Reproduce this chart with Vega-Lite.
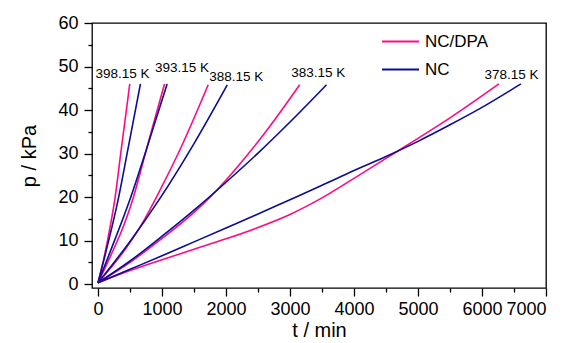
{
  "$schema": "https://vega.github.io/schema/vega-lite/v6.json",
  "width": 454,
  "height": 265,
  "autosize": {"type": "none"},
  "padding": {"left": 92, "top": 23, "right": 30, "bottom": 55},
  "config": {
    "view": {"stroke": "#000", "strokeWidth": 1.3},
    "font": "Liberation Sans",
    "axis": {"grid": false, "domain": false, "tickColor": "#000", "tickWidth": 1.3, "labelColor": "#000", "titleColor": "#000", "labelFont": "Liberation Sans", "titleFont": "Liberation Sans", "titleFontWeight": "normal", "labelOverlap": false, "format": "d"}
  },
  "datasets": {
    "curves": [
      {"series": "NC/DPA", "T": "398.15 K", "t": 0, "p": 0.3},
      {"series": "NC/DPA", "T": "398.15 K", "t": 100, "p": 6.5},
      {"series": "NC/DPA", "T": "398.15 K", "t": 200, "p": 14},
      {"series": "NC/DPA", "T": "398.15 K", "t": 261, "p": 19.3},
      {"series": "NC/DPA", "T": "398.15 K", "t": 360, "p": 30.6},
      {"series": "NC/DPA", "T": "398.15 K", "t": 430, "p": 38.5},
      {"series": "NC/DPA", "T": "398.15 K", "t": 496, "p": 46},
      {"series": "NC", "T": "398.15 K", "t": 0, "p": 0.3},
      {"series": "NC", "T": "398.15 K", "t": 150, "p": 9},
      {"series": "NC", "T": "398.15 K", "t": 313, "p": 19.3},
      {"series": "NC", "T": "398.15 K", "t": 475, "p": 31.6},
      {"series": "NC", "T": "398.15 K", "t": 663, "p": 46},
      {"series": "NC/DPA", "T": "393.15 K", "t": 0, "p": 0.3},
      {"series": "NC/DPA", "T": "393.15 K", "t": 200, "p": 6.6},
      {"series": "NC/DPA", "T": "393.15 K", "t": 400, "p": 13.4},
      {"series": "NC/DPA", "T": "393.15 K", "t": 540, "p": 19.3},
      {"series": "NC/DPA", "T": "393.15 K", "t": 700, "p": 27.8},
      {"series": "NC/DPA", "T": "393.15 K", "t": 850, "p": 36},
      {"series": "NC/DPA", "T": "393.15 K", "t": 1039, "p": 46},
      {"series": "NC", "T": "393.15 K", "t": 0, "p": 0.3},
      {"series": "NC", "T": "393.15 K", "t": 200, "p": 7.8},
      {"series": "NC", "T": "393.15 K", "t": 496, "p": 19.3},
      {"series": "NC", "T": "393.15 K", "t": 762, "p": 31.2},
      {"series": "NC", "T": "393.15 K", "t": 1080, "p": 46},
      {"series": "NC/DPA", "T": "388.15 K", "t": 0, "p": 0.3},
      {"series": "NC/DPA", "T": "388.15 K", "t": 400, "p": 7.5},
      {"series": "NC/DPA", "T": "388.15 K", "t": 700, "p": 14.2},
      {"series": "NC/DPA", "T": "388.15 K", "t": 969, "p": 21.6},
      {"series": "NC/DPA", "T": "388.15 K", "t": 1300, "p": 31.5},
      {"series": "NC/DPA", "T": "388.15 K", "t": 1722, "p": 45.8},
      {"series": "NC", "T": "388.15 K", "t": 0, "p": 0.3},
      {"series": "NC", "T": "388.15 K", "t": 500, "p": 9.8},
      {"series": "NC", "T": "388.15 K", "t": 950, "p": 19.3},
      {"series": "NC", "T": "388.15 K", "t": 1500, "p": 32.3},
      {"series": "NC", "T": "388.15 K", "t": 2020, "p": 45.8},
      {"series": "NC/DPA", "T": "383.15 K", "t": 0, "p": 0.3},
      {"series": "NC/DPA", "T": "383.15 K", "t": 500, "p": 5},
      {"series": "NC/DPA", "T": "383.15 K", "t": 1000, "p": 10.5},
      {"series": "NC/DPA", "T": "383.15 K", "t": 1500, "p": 16.5},
      {"series": "NC/DPA", "T": "383.15 K", "t": 1832, "p": 21.2},
      {"series": "NC/DPA", "T": "383.15 K", "t": 2200, "p": 27.3},
      {"series": "NC/DPA", "T": "383.15 K", "t": 2600, "p": 34.6},
      {"series": "NC/DPA", "T": "383.15 K", "t": 3152, "p": 45.8},
      {"series": "NC", "T": "383.15 K", "t": 0, "p": 0.3},
      {"series": "NC", "T": "383.15 K", "t": 500, "p": 5.3},
      {"series": "NC", "T": "383.15 K", "t": 1000, "p": 11},
      {"series": "NC", "T": "383.15 K", "t": 1500, "p": 17},
      {"series": "NC", "T": "383.15 K", "t": 2000, "p": 23.4},
      {"series": "NC", "T": "383.15 K", "t": 2500, "p": 30.1},
      {"series": "NC", "T": "383.15 K", "t": 3000, "p": 37.25},
      {"series": "NC", "T": "383.15 K", "t": 3570, "p": 45.8},
      {"series": "NC/DPA", "T": "378.15 K", "t": 0, "p": 0.3},
      {"series": "NC/DPA", "T": "378.15 K", "t": 500, "p": 3.1},
      {"series": "NC/DPA", "T": "378.15 K", "t": 1000, "p": 5.6},
      {"series": "NC/DPA", "T": "378.15 K", "t": 1500, "p": 8},
      {"series": "NC/DPA", "T": "378.15 K", "t": 2000, "p": 10.4},
      {"series": "NC/DPA", "T": "378.15 K", "t": 2500, "p": 13},
      {"series": "NC/DPA", "T": "378.15 K", "t": 3000, "p": 16},
      {"series": "NC/DPA", "T": "378.15 K", "t": 3500, "p": 19.8},
      {"series": "NC/DPA", "T": "378.15 K", "t": 4000, "p": 24.3},
      {"series": "NC/DPA", "T": "378.15 K", "t": 4500, "p": 28.9},
      {"series": "NC/DPA", "T": "378.15 K", "t": 5000, "p": 33.5},
      {"series": "NC/DPA", "T": "378.15 K", "t": 5500, "p": 38.2},
      {"series": "NC/DPA", "T": "378.15 K", "t": 6264, "p": 46},
      {"series": "NC", "T": "378.15 K", "t": 0, "p": 0.3},
      {"series": "NC", "T": "378.15 K", "t": 500, "p": 3.4},
      {"series": "NC", "T": "378.15 K", "t": 1000, "p": 6.5},
      {"series": "NC", "T": "378.15 K", "t": 1500, "p": 9.7},
      {"series": "NC", "T": "378.15 K", "t": 2000, "p": 12.9},
      {"series": "NC", "T": "378.15 K", "t": 2500, "p": 16.1},
      {"series": "NC", "T": "378.15 K", "t": 3000, "p": 19.4},
      {"series": "NC", "T": "378.15 K", "t": 3500, "p": 22.7},
      {"series": "NC", "T": "378.15 K", "t": 4000, "p": 26.1},
      {"series": "NC", "T": "378.15 K", "t": 4500, "p": 29.3},
      {"series": "NC", "T": "378.15 K", "t": 5000, "p": 32.8},
      {"series": "NC", "T": "378.15 K", "t": 5500, "p": 36.6},
      {"series": "NC", "T": "378.15 K", "t": 6000, "p": 40.6},
      {"series": "NC", "T": "378.15 K", "t": 6608, "p": 46}
    ],
    "labels": [
      {"label": "398.15 K", "t": 384, "p": 48.3},
      {"label": "393.15 K", "t": 1311, "p": 49.7},
      {"label": "388.15 K", "t": 2161, "p": 47.7},
      {"label": "383.15 K", "t": 3440, "p": 48.5},
      {"label": "378.15 K", "t": 6462, "p": 48.1}
    ]
  },
  "layer": [
    {
      "data": {"name": "curves"},
      "mark": {"type": "line", "interpolate": "monotone", "strokeWidth": 1.6},
      "encoding": {
        "x": {"field": "t", "type": "quantitative", "scale": {"domain": [-94, 7000], "nice": false, "zero": false},
          "axis": {"orient": "bottom", "values": [0, 1000, 2000, 3000, 4000, 5000, 6000, 7000], "tickSize": 8, "labelFontSize": 18, "labelPadding": 4, "title": "t / min", "titleFontSize": 20, "titlePadding": 2}},
        "y": {"field": "p", "type": "quantitative", "scale": {"domain": [-0.9, 60], "nice": false, "zero": false},
          "axis": {"orient": "left", "values": [0, 10, 20, 30, 40, 50, 60], "tickSize": 8, "labelFontSize": 18, "labelPadding": 6, "title": "p / kPa", "titleFontSize": 20, "titlePadding": 18}},
        "color": {"field": "series", "type": "nominal", "scale": {"domain": ["NC/DPA", "NC"], "range": ["#ff0a85", "#0c0c96"]},
          "legend": {"title": null, "orient": "none", "legendX": 289, "legendY": -1, "padding": 0, "symbolType": "stroke", "symbolSize": 1369, "symbolStrokeWidth": 2, "labelFontSize": 17, "labelFont": "Liberation Sans", "labelColor": "#000", "labelOffset": 5, "rowPadding": -6}},
        "detail": {"field": "T", "type": "nominal"}
      }
    },
    {
      "data": {"name": "labels"},
      "mark": {"type": "text", "fontSize": 13.5, "font": "Liberation Sans", "color": "#000"},
      "encoding": {
        "x": {"field": "t", "type": "quantitative", "scale": {"domain": [-94, 7000], "nice": false, "zero": false},
          "axis": {"orient": "bottom", "values": [500, 1500, 2500, 3500, 4500, 5500, 6500], "tickSize": 4, "labels": false, "title": null}},
        "y": {"field": "p", "type": "quantitative", "scale": {"domain": [-0.9, 60], "nice": false, "zero": false},
          "axis": {"orient": "left", "values": [5, 15, 25, 35, 45, 55], "tickSize": 4, "labels": false, "title": null}},
        "text": {"field": "label"}
      }
    }
  ],
  "resolve": {"axis": {"x": "independent", "y": "independent"}}
}
